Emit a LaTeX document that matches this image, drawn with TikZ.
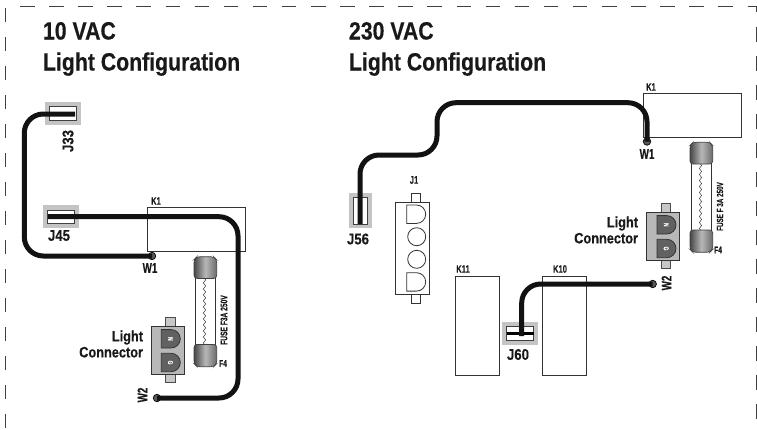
\documentclass[tikz,border=0pt]{standalone}
\usepackage{fontspec}
\newfontfamily\headf[FakeStretch=0.85,BoldFeatures={FakeBold=0.35}]{Liberation Sans}
\newfontfamily\narrf[FakeStretch=0.7,BoldFeatures={FakeBold=0.25}]{Liberation Sans}
\newcommand{\fsz}[1]{\fontsize{#1}{#1}\selectfont}
\tikzset{
  x=1pt,y=-1pt,
  every node/.style={inner sep=0pt,outer sep=0pt,text=black!90},
  title/.style={font=\headf\bfseries\fsz{25},anchor=base west},
  lab/.style={font=\headf\bfseries\fsz{15.5}},
  wlab/.style={font=\narrf\bfseries\fsz{14}},
  klab/.style={font=\narrf\bfseries\fsz{10.8}},
  fuselab/.style={font=\narrf\bfseries\fsz{9.5}},
  fuselabb/.style={font=\narrf\bfseries\fsz{9}},
  conlab/.style={font=\headf\bfseries\fsz{15},align=right,anchor=east},
  padlab/.style={font=\narrf\bfseries\fsz{7},text=white},
  gray box/.style={draw=none,fill=black!23,minimum width=#1},
  pin/.style={draw=black!75,line width=.8pt,fill=white,minimum width=0pt},
  relay/.style={draw=black!80,line width=.8pt,fill=none},
  wire/.style={draw=black!93,line width=5pt,rounded corners=19pt},
  dot/.style={circle,draw=black,line width=.7pt,fill=black!65,minimum size=7.5pt},
  border/.style={draw=black!75,line width=1pt},
  capshade/.style={draw=black!75,line width=.7pt,left color=black!72,right color=black!58,middle color=black!28,shading angle=90},
}
\newcommand{\jbox}[5]{%
  \node[gray box=0pt,minimum width=#4pt-#2pt,minimum height=#5pt-#3pt,anchor=north west] (#1) at (#2,#3) {};
}
\newcommand{\pinbox}[5]{%
  \node[pin,minimum width=#4pt-#2pt,minimum height=#5pt-#3pt,anchor=north west] (#1) at (#2,#3) {};
}
\newcommand{\fusepart}[2]{%
  \begin{scope}[shift={(#1,#2)}]
    \draw[draw=black!80,line width=.8pt,fill=white] (1.5,18) rectangle (21.2,92);
    \draw[capshade,rounded corners=3pt] (0,21.7) -- (0,3) -- (3,0) -- (19.7,0) -- (22.7,3) -- (22.7,21.7) -- cycle;
    \draw[capshade,rounded corners=3pt] (0,87.7) -- (0,107) -- (3,110) -- (19.7,110) -- (22.7,107) -- (22.7,87.7) -- cycle;
    \draw[black!85,line width=.45pt] (10.5,21.7)
      \foreach \k in {0,...,10}{ .. controls (12,{21.7+\k*6+1.5}) and (12,{21.7+\k*6+1.5}) .. (10.5,{21.7+\k*6+3}) .. controls (9,{21.7+\k*6+4.5}) and (9,{21.7+\k*6+4.5}) .. (10.5,{21.7+\k*6+6}) };
  \end{scope}
}
\newcommand{\dshape}[3]{%
  \draw[draw=black!80,line width=.8pt,fill=#3] (#1,#2) -- ({#1+9.8},#2)
    .. controls ({#1+14.9},#2) and ({#1+19},{#2+4.1}) .. ({#1+19},{#2+9.2})
    .. controls ({#1+19},{#2+14.3}) and ({#1+14.9},{#2+18.4}) .. ({#1+9.8},{#2+18.4})
    -- (#1,{#2+18.4}) -- cycle;
}
\newcommand{\lightcon}[2]{%
  \begin{scope}[shift={(#1,#2)}]
    \draw[draw=black!70,line width=.8pt,fill=black!22] (14.6,-8.6) rectangle (24,0);
    \draw[draw=black!70,line width=.8pt,fill=black!22] (14.6,48.3) rectangle (24,56.7);
    \draw[draw=black!80,line width=.8pt,fill=black!28] (0,0) rectangle (33,48.3);
    \dshape{10.3}{3.6}{black!62}
    \dshape{10.3}{27.3}{black!62}
    \node[padlab,rotate=-90] (padN) at (19.5,12.8) {N};
    \node[padlab,rotate=-90] (padG) at (19.5,36.5) {G};
  \end{scope}
}
\begin{document}
\begin{tikzpicture}
\useasboundingbox (0,0) rectangle (757,429);
\coordinate (tl) at (20,6.5);
\coordinate (tr) at (756.3,6.5);
\coordinate (br) at (756.3,429);
\draw[border,dash pattern=on 14.5pt off 14.6pt] (tl) -- (tr);
\draw[border] (747.5,6.5) -- (tr) -- (756.3,12);
\draw[border,dash pattern=on 14.5pt off 14.5pt] (756.3,27) -- (br);
\draw[border,dash pattern=on 14pt off 15pt] (5.7,8) -- (5.7,429);
\node[title] (t1) at (43,39.5) {10 VAC};
\node[title] (t2) at (43,70.5) {Light Configuration};
\node[title] (t3) at (349,39.5) {230 VAC};
\node[title] (t4) at (349,70.5) {Light Configuration};
\jbox{J33g}{45}{102}{81}{125}
\pinbox{J33p}{49.3}{106.7}{76}{120.7}
\jbox{J45g}{42.7}{205}{79}{227.7}
\pinbox{J45p}{47.3}{210}{74.3}{223.3}
\node[lab,rotate=90] (lJ33) at (68,141) {J33};
\node[lab] (lJ45) at (59,235.5) {J45};
\draw[relay] (147,207) rectangle (245.7,251);
\node[klab] (k1a) at (156,201) {K1};
\fusepart{194}{256.7}
\node[fuselab,rotate=90] (f1) at (224,320) {FUSE F3A 250V};
\node[fuselab] (f4a) at (223,363.5) {F4};
\lightcon{151}{326}
\node[conlab] (lc1) at (143,344) {Light\\[1pt]Connector};
\node[dot] (W1a) at (152,256) {};
\node[dot] (W2a) at (157,398) {};
\node[wlab] (lW1a) at (150,268) {W1};
\node[wlab,rotate=90] (lW2a) at (142.5,395) {W2};
\coordinate (a1) at (75,114);
\coordinate (a2) at (24.3,114);
\coordinate (a3) at (24.3,256);
\coordinate (b1) at (48,216.7);
\coordinate (b2) at (238,216.7);
\coordinate (b3) at (238,398);
\draw[wire] (a1) -- (a2) -- (a3) -- (W1a.center);
\draw[wire] (b1) -- (b2) -- (b3) -- (W2a.center);
\jbox{J56g}{349}{192.7}{371.7}{228.3}
\pinbox{J56p}{353.7}{197.3}{367}{224}
\node[lab] (lJ56) at (358,239) {J56};
\node[klab] (J1l) at (414,180) {J1};
\draw[relay,fill=white] (411.3,193.3) rectangle (420.7,202.3);
\draw[relay,fill=white] (411.3,294.3) rectangle (420.7,303);
\draw[relay,fill=white] (395.7,202.3) rectangle (429.3,294.3);
\dshape{406.7}{205}{white}
\dshape{406.7}{272.7}{white}
\draw[relay] (416.7,236.7) circle[radius=9pt];
\draw[relay] (416.7,259.3) circle[radius=9pt];
\draw[relay] (643,93.3) rectangle (741.7,137);
\node[klab] (k1b) at (651,87) {K1};
\fusepart{690}{142.3}
\node[fuselabb,rotate=90] (f2) at (720,206.5) {FUSE F 3A 250V};
\node[fuselab] (f4b) at (718,250) {F4};
\lightcon{646.7}{212}
\node[conlab] (lc2) at (638,230) {Light\\[1pt]Connector};
\node[dot] (W1b) at (647,141.5) {};
\node[dot] (W2b) at (652.7,284) {};
\node[wlab] (lW1b) at (647,154) {W1};
\node[wlab,rotate=90] (lW2b) at (666.5,283) {W2};
\draw[relay] (455.3,276.7) rectangle (499.3,375);
\draw[relay] (542.3,276.7) rectangle (586.7,375);
\node[klab] (k11) at (463,269) {K11};
\node[klab] (k10) at (560,269) {K10};
\jbox{J60g}{502.3}{322}{538}{344.7}
\pinbox{J60p}{506.7}{326.7}{533.7}{340.3}
\node[lab] (lJ60) at (518,354.5) {J60};
\draw[black,line width=3.6pt] (J60p.west) -- (J60p.east);
\coordinate (c1) at (360,224);
\coordinate (c2) at (360,155);
\coordinate (c3) at (437,155);
\coordinate (c4) at (437,102.7);
\coordinate (c5) at (647,102.7);
\coordinate (d1) at (521.7,336);
\coordinate (d2) at (521.7,284);
\draw[wire] (c1) -- (c2) -- (c3) -- (c4) -- (c5) -- (W1b.center);
\draw[wire] (d1) -- (d2) -- (W2b.center);
\end{tikzpicture}
\end{document}
